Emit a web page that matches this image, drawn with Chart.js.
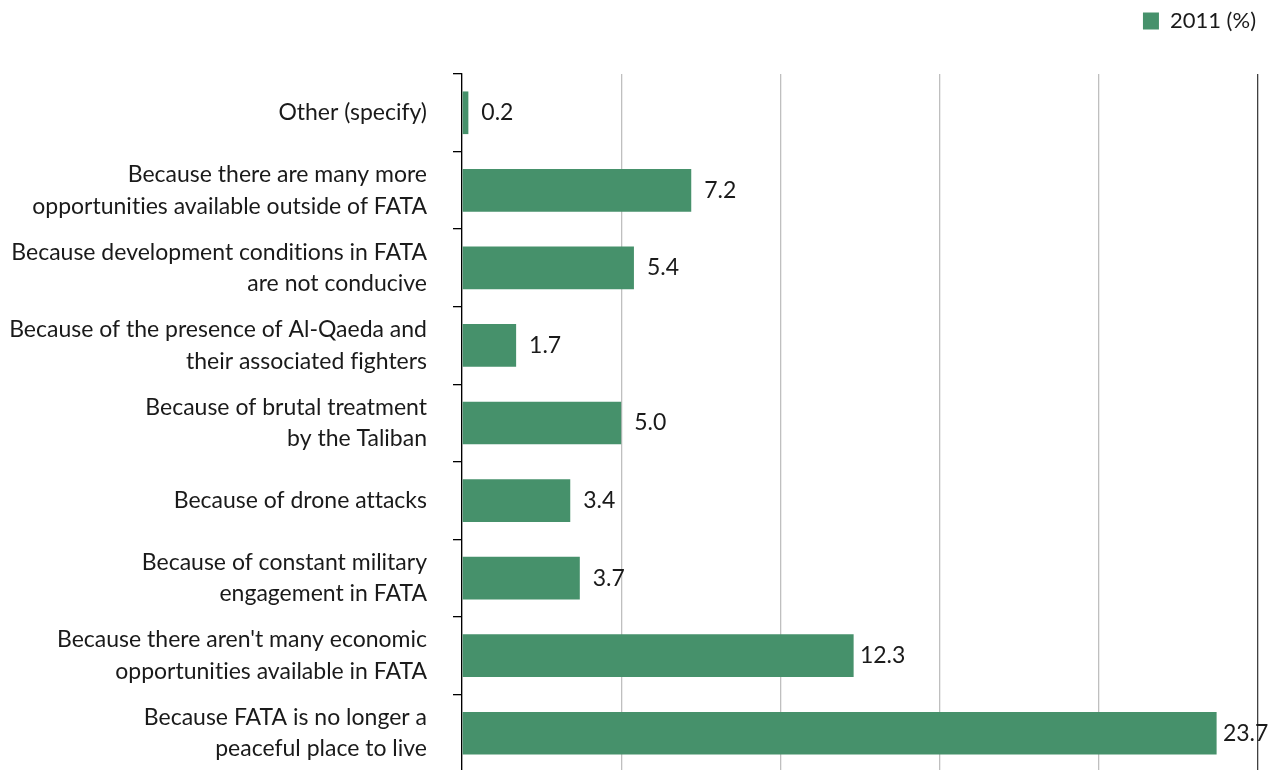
<!DOCTYPE html>
<html><head><meta charset="utf-8">
<script src="https://cdn.jsdelivr.net/npm/chart.js@4/dist/chart.umd.min.js"></script>
<style>html,body{margin:0;padding:0;background:#fff;overflow:hidden;width:1268px;height:770px}#wrap{width:1268px;height:772px;position:relative}</style>
</head><body><div id="wrap"><canvas id="c"></canvas></div>
<script>
const categories = [
  "Other (specify)",
  ["Because there are many more", "opportunities available outside of FATA"],
  ["Because development conditions in FATA", "are not conducive"],
  ["Because of the presence of Al-Qaeda and", "their associated fighters"],
  ["Because of brutal treatment", "by the Taliban"],
  "Because of drone attacks",
  ["Because of constant military", "engagement in FATA"],
  ["Because there aren't many economic", "opportunities available in FATA"],
  ["Because FATA is no longer a", "peaceful place to live"]
];
const values2011 = [0.2, 7.2, 5.4, 1.7, 5.0, 3.4, 3.7, 12.3, 23.7];
const seriesName = "2011 (%)";
const FONT = "Lato, 'Open Sans', sans-serif";

const noLigatures = {
  id: 'noLigatures',
  beforeDraw(chart) { try { chart.ctx.textRendering = 'optimizeSpeed'; } catch (e) {} }
};

const legendMargin = {
  id: 'legendMargin',
  beforeInit(chart) {
    const fit = chart.legend.fit;
    chart.legend.fit = function () { fit.bind(chart.legend)(); this.height += 32; };
  },
  afterLayout(chart) {
    const lg = chart.legend;
    if (lg) { lg.left += 8; lg.right += 8; }
  }
};

const valueLabels = {
  id: 'valueLabels',
  afterDatasetsDraw(chart) {
    const ctx = chart.ctx;
    const meta = chart.getDatasetMeta(0);
    ctx.save();
    ctx.font = "23px " + FONT;
    ctx.fillStyle = "#1a1a1a";
    ctx.textBaseline = "middle";
    ctx.textAlign = "center";
    meta.data.forEach((bar, i) => {
      ctx.fillText(values2011[i].toFixed(1), bar.x + 29, bar.y);
    });
    ctx.restore();
  }
};

new Chart(document.getElementById('c'), {
  type: 'bar',
  data: {
    labels: categories,
    datasets: [{
      label: seriesName,
      data: values2011,
      backgroundColor: '#46916b',
      categoryPercentage: 0.55,
      barPercentage: 1.0
    }]
  },
  plugins: [noLigatures, legendMargin, valueLabels],
  options: {
    indexAxis: 'y',
    responsive: true,
    maintainAspectRatio: false,
    animation: false,
    layout: { padding: { left: 8, right: 10, top: 0, bottom: 0 } },
    plugins: {
      legend: {
        position: 'top',
        align: 'end',
        labels: {
          boxWidth: 16, boxHeight: 17,
          font: { family: FONT, size: 22 },
          color: '#1a1a1a',
          padding: 10
        }
      },
      tooltip: { enabled: false }
    },
    scales: {
      x: {
        min: 0, max: 25,
        ticks: { display: false, stepSize: 5 },
        border: { display: false },
        afterFit: (s) => { s.height = 0; s.paddingLeft = 0; s.paddingRight = 0; },
        grid: {
          color: (c) => (c.tick && c.tick.value === 25) ? '#404040' : '#bfbfbf',
          lineWidth: 1.3,
          drawTicks: false
        }
      },
      y: {
        afterFit: (s) => { s.width = 454; s.paddingTop = 0; s.paddingBottom = 0; },
        ticks: {
          font: { family: FONT, size: 23, lineHeight: 1.37 },
          color: '#1a1a1a',
          padding: 26,
          autoSkip: false
        },
        border: { display: true, color: '#000', width: 1.3 },
        grid: {
          offset: true,
          drawOnChartArea: false,
          drawTicks: true,
          tickLength: 9,
          color: '#000',
          lineWidth: 1.3
        }
      }
    }
  }
});
</script></body></html>
